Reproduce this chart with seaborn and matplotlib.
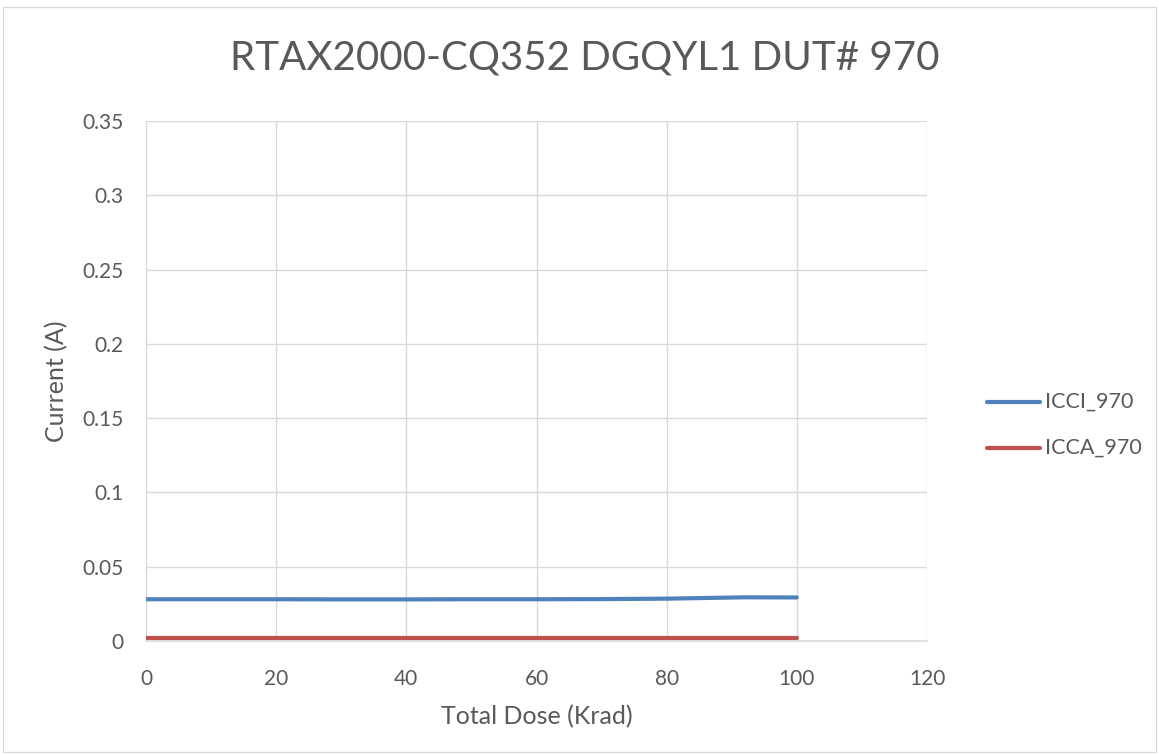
import matplotlib
matplotlib.use("Agg")
import matplotlib.pyplot as plt
import seaborn as sns
import pandas as pd
from matplotlib.patches import Rectangle

# Data
dose = [0, 10, 20, 30, 40, 50, 60, 70, 80, 92, 100]
icci_970 = [0.0281, 0.0281, 0.0281, 0.0280, 0.0280, 0.0281, 0.0281, 0.0282, 0.0285, 0.0294, 0.0293]
icca_970 = [0.0019, 0.0019, 0.0019, 0.0019, 0.0019, 0.0019, 0.0019, 0.0019, 0.0019, 0.0019, 0.0019]

x_ticks = [0, 20, 40, 60, 80, 100, 120]
y_ticks = [0, 0.05, 0.1, 0.15, 0.2, 0.25, 0.3, 0.35]
y_tick_labels = ["0", "0.05", "0.1", "0.15", "0.2", "0.25", "0.3", "0.35"]

df = pd.DataFrame({"dose": dose, "ICCI_970": icci_970, "ICCA_970": icca_970})
df_long = df.melt(id_vars="dose", var_name="series", value_name="current")

sns.set_theme(style="white")
plt.rcParams["font.family"] = ["Lato", "DejaVu Sans"]
text_color = "#595959"
grid_color = "#d9d9d9"

fig = plt.figure(figsize=(11.59, 7.55), dpi=100)
ax = fig.add_axes([146 / 1159, 1 - 641 / 755, (927 - 146) / 1159, (641 - 121) / 755])

sns.lineplot(data=df_long, x="dose", y="current", hue="series",
             palette={"ICCI_970": "#4f81bd", "ICCA_970": "#c0504d"},
             linewidth=3, ax=ax, legend=False)

ax.set_xlim(0, 120)
ax.set_ylim(0, 0.35)
ax.set_xticks(x_ticks)
ax.set_yticks(y_ticks)
ax.set_yticklabels(y_tick_labels)
ax.grid(True, color=grid_color, linewidth=1)
ax.set_axisbelow(True)
for side in ["top", "right", "left"]:
    ax.spines[side].set_visible(False)
ax.spines["bottom"].set_color(grid_color)
ax.spines["bottom"].set_linewidth(1.2)
ax.tick_params(axis="both", length=0, labelsize=15, colors=text_color)
ax.tick_params(axis="x", pad=20)
ax.tick_params(axis="y", pad=16)

ax.set_xlabel("Total Dose (Krad)", fontsize=18, color=text_color, labelpad=12)
ax.set_ylabel("Current (A)", fontsize=18, color=text_color, labelpad=10)

fig.text(585 / 1159, 1 - 58 / 755, "RTAX2000-CQ352 DGQYL1 DUT# 970",
         ha="center", va="center", fontsize=29, color=text_color)

# legend
for label, color, yy in [("ICCI_970", "#4f81bd", 402), ("ICCA_970", "#c0504d", 448)]:
    fig.lines.append(plt.Line2D([987 / 1159, 1040 / 1159], [1 - yy / 755, 1 - yy / 755],
                                transform=fig.transFigure, color=color, linewidth=3,
                                solid_capstyle="round"))
    fig.text(1045 / 1159, 1 - yy / 755, label, ha="left", va="center",
             fontsize=15.5, color=text_color)

# chart border
fig.patches.append(Rectangle((3 / 1159, 3 / 755), 1153 / 1159, 745 / 755,
                             transform=fig.transFigure, fill=False,
                             edgecolor="#d9d9d9", linewidth=1))

fig.savefig("out.png", dpi=100)
